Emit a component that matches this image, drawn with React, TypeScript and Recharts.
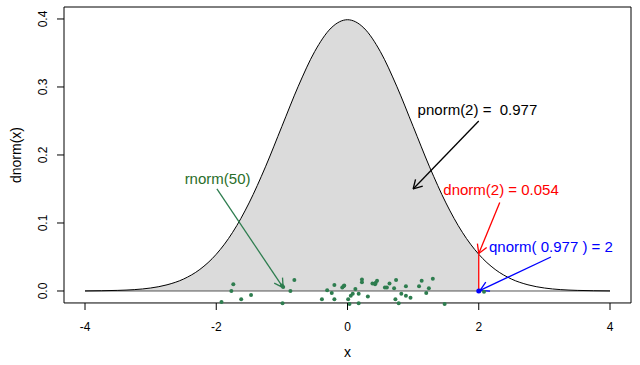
import React from 'react';
import {
  ComposedChart, Line, Area, Scatter, XAxis, YAxis, ReferenceLine, ReferenceDot, ReferenceArea,
} from 'recharts';

// density curve (x step 0.25)
const curveX = [
  -4, -3.75, -3.5, -3.25, -3, -2.75, -2.5, -2.25, -2, -1.75, -1.5, -1.25, -1, -0.75, -0.5, -0.25,
  0, 0.25, 0.5, 0.75, 1, 1.25, 1.5, 1.75, 2, 2.25, 2.5, 2.75, 3, 3.25, 3.5, 3.75, 4,
];
const curveY = [
  0.0001, 0.0004, 0.0009, 0.002, 0.0044, 0.0091, 0.0175, 0.0317, 0.054, 0.0863, 0.1295, 0.1826,
  0.242, 0.3011, 0.3521, 0.3867, 0.3989, 0.3867, 0.3521, 0.3011, 0.242, 0.1826, 0.1295, 0.0863,
  0.054, 0.0317, 0.0175, 0.0091, 0.0044, 0.002, 0.0009, 0.0004, 0.0001,
];

// rnorm(50) sample, plotted with a small vertical jitter
const sampleX = [
  -1.92, -1.77, -1.74, -1.62, -1.47, -1.0, -0.98, -0.99, -0.87, -0.81, -0.39, -0.31, -0.24, -0.2,
  -0.2, -0.08, -0.06, -0.05, 0.01, 0.03, 0.05, 0.08, 0.12, 0.17, 0.17, 0.22, 0.22, 0.31, 0.38,
  0.42, 0.43, 0.45, 0.57, 0.6, 0.64, 0.71, 0.73, 0.74, 0.78, 0.82, 0.89, 0.89, 0.96, 1.09, 1.13,
  1.2, 1.24, 1.3, 1.48, 2.08,
];
const sampleJitter = [
  -0.016, 0.0, 0.01, -0.012, -0.006, 0.008, 0.006, -0.018, 0.0, 0.016, -0.012, 0.001, -0.003,
  0.009, -0.012, 0.005, 0.007, 0.008, -0.012, -0.019, -0.007, -0.004, 0.003, -0.004, -0.018,
  0.017, 0.013, -0.008, 0.011, 0.01, 0.012, 0.015, 0.005, 0.005, 0.011, 0.004, -0.012, 0.016,
  -0.018, -0.004, -0.007, 0.007, -0.01, 0.007, 0.015, -0.003, 0.004, 0.018, -0.019, -0.001,
];

const xTicks = [-4, -2, 0, 2, 4];
const yTicks = [0, 0.1, 0.2, 0.3, 0.4];
const xDomain = [-4.32, 4.32];
const boxY = [-0.0176, 0.4176];
// a little room below the box so jittered points are not clipped
const yDomain = [-0.025, 0.4176];

const curve = curveX.map((x, i) => ({ x, y: curveY[i] }));
const shaded = curve.filter((d) => d.x <= 2);
const sample = sampleX.map((x, i) => ({ x, y: sampleJitter[i] }));

const FONT = '"Liberation Sans", Arial, Helvetica, sans-serif';

const arrow = (color: string) => (p: any) => {
  const { x1, y1, x2, y2 } = p;
  const a = Math.atan2(y2 - y1, x2 - x1);
  const len = 10;
  const h1 = a + Math.PI - Math.PI / 6;
  const h2 = a + Math.PI + Math.PI / 6;
  return (
    <g stroke={color} strokeWidth={1.3} fill="none">
      <line x1={x1} y1={y1} x2={x2} y2={y2} />
      <line x1={x2} y1={y2} x2={x2 + len * Math.cos(h1)} y2={y2 + len * Math.sin(h1)} />
      <line x1={x2} y1={y2} x2={x2 + len * Math.cos(h2)} y2={y2 + len * Math.sin(h2)} />
    </g>
  );
};

const note = (text: string, color: string) => (p: any) => (
  <text
    x={p.cx}
    y={p.cy + 5}
    textAnchor="middle"
    fill={color}
    fontSize={15}
    fontFamily={FONT}
    style={{ whiteSpace: 'pre' }}
  >
    {text}
  </text>
);

const XTick = (p: any) => (
  <g>
    <line x1={p.x} x2={p.x} y1={303} y2={310} stroke="#000" />
    <text x={p.x} y={331} textAnchor="middle" fontSize={12} fontFamily={FONT} fill="#000">
      {p.payload.value}
    </text>
  </g>
);

const YTick = (p: any) => (
  <text
    transform={`translate(${p.x - 8},${p.y}) rotate(-90)`}
    textAnchor="middle"
    fontSize={12}
    fontFamily={FONT}
    fill="#000"
  >
    {p.payload.value.toFixed(1)}
  </text>
);

const YTitle = (p: any) => {
  const vb = p.viewBox || { x: 0, y: 7, width: 64, height: 301 };
  return (
    <text
      transform={`translate(${vb.x + 21},155) rotate(-90)`}
      textAnchor="middle"
      fontSize={14}
      fontFamily={FONT}
      fill="#000"
    >
      dnorm(x)
    </text>
  );
};

const XTitle = (p: any) => {
  const vb = p.viewBox || { x: 64, y: 308, width: 567, height: 57 };
  return (
    <text x={vb.x + vb.width / 2} y={357} textAnchor="middle" fontSize={14} fontFamily={FONT} fill="#000">
      x
    </text>
  );
};

export default function App() {
  return (
    <div style={{ position: 'fixed', left: 0, top: 0, background: '#fff' }}>
      <ComposedChart width={640} height={365} margin={{ top: 7, right: 9, left: 0, bottom: 0 }}>
        <XAxis
          type="number"
          dataKey="x"
          domain={xDomain}
          ticks={xTicks}
          allowDataOverflow
          axisLine={false}
          tickLine={false}
          height={57}
          tick={<XTick />}
          label={<XTitle />}
        />
        <YAxis
          type="number"
          dataKey="y"
          domain={yDomain}
          ticks={yTicks}
          allowDataOverflow
          axisLine={false}
          tickLine={{ stroke: '#000' }}
          tickSize={7}
          width={64}
          tick={<YTick />}
          label={<YTitle />}
        />
        <Area
          data={shaded}
          dataKey="y"
          type="monotone"
          baseValue={0}
          fill="#dbdbdb"
          fillOpacity={1}
          stroke="none"
          isAnimationActive={false}
        />
        <ReferenceLine segment={[{ x: -4, y: 0 }, { x: 4, y: 0 }]} stroke="#555" strokeWidth={1} />
        <Line
          data={curve}
          dataKey="y"
          type="monotone"
          stroke="#000"
          strokeWidth={1}
          dot={false}
          isAnimationActive={false}
        />
        <ReferenceLine segment={[{ x: 2, y: 0 }, { x: 2, y: 0.054 }]} stroke="#ff0000" strokeWidth={1.3} />
        <Scatter
          data={sample}
          dataKey="y"
          isAnimationActive={false}
          shape={(p: any) => <circle cx={p.cx} cy={p.cy} r={2} fill="#2e7d4f" />}
        />
        <ReferenceDot x={2} y={0} r={2.5} fill="#0000ff" stroke="none" />
        <ReferenceLine segment={[{ x: -1.99, y: 0.15 }, { x: -0.98, y: 0.005 }]} shape={arrow('#2e7d4f')} />
        <ReferenceLine segment={[{ x: 2.0, y: 0.25 }, { x: 1.0, y: 0.15 }]} shape={arrow('#000')} />
        <ReferenceLine segment={[{ x: 2.32, y: 0.13 }, { x: 2.0, y: 0.055 }]} shape={arrow('#ff0000')} />
        <ReferenceLine segment={[{ x: 3.1, y: 0.05 }, { x: 2.02, y: 0.001 }]} shape={arrow('#0000ff')} />
        <ReferenceDot x={-1.98} y={0.165} r={1} shape={note('rnorm(50)', '#2a6e2a')} />
        <ReferenceDot x={1.98} y={0.266} r={1} shape={note('pnorm(2) =  0.977', '#000')} />
        <ReferenceDot x={2.34} y={0.148} r={1} shape={note('dnorm(2) = 0.054', '#ff0000')} />
        <ReferenceDot x={3.1} y={0.065} r={1} shape={note('qnorm( 0.977 ) = 2', '#0000ff')} />
        <ReferenceArea
          x1={xDomain[0]}
          x2={xDomain[1]}
          y1={boxY[0]}
          y2={boxY[1]}
          fill="none"
          stroke="#000"
          strokeWidth={1}
          ifOverflow="visible"
        />
      </ComposedChart>
    </div>
  );
}
